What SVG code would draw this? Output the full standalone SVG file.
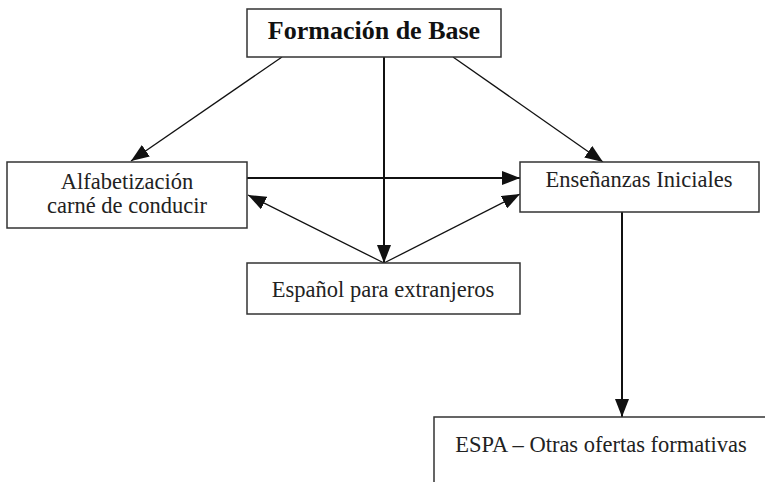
<svg xmlns="http://www.w3.org/2000/svg" width="765" height="482" viewBox="0 0 765 482">
<style>
.box{fill:#fff;stroke:#333;stroke-width:1.5}
.t{font-family:"Liberation Serif","Times New Roman",serif;font-size:22.5px;fill:#222;text-anchor:middle}
.tb{font-family:"Liberation Serif","Times New Roman",serif;font-size:26px;font-weight:bold;fill:#111;text-anchor:middle}
.thick{stroke:#111;stroke-width:2;fill:none}
.thin{stroke:#111;stroke-width:1.3;fill:none}
</style>
<defs>
<marker id="ah" markerUnits="userSpaceOnUse" markerWidth="18" markerHeight="14" refX="18" refY="7" orient="auto">
<path d="M0,0 L18,7 L0,14 z" fill="#111"/>
</marker>
</defs>
<rect width="765" height="482" fill="#fff"/>
<g id="connectors">
<line class="thin" x1="282" y1="57" x2="131" y2="161" marker-end="url(#ah)"/>
<line class="thick" x1="384" y1="57" x2="384" y2="263" marker-end="url(#ah)"/>
<line class="thin" x1="453" y1="57" x2="603" y2="162" marker-end="url(#ah)"/>
<line class="thick" x1="247" y1="178" x2="520" y2="178" marker-end="url(#ah)"/>
<line class="thin" x1="384" y1="263" x2="248" y2="195" marker-end="url(#ah)"/>
<line class="thin" x1="384" y1="263" x2="520" y2="194" marker-end="url(#ah)"/>
<line class="thick" x1="622" y1="212" x2="622" y2="417" marker-end="url(#ah)"/>
</g>
<g id="formacion">
<rect class="box" x="247" y="9" width="254" height="48"/>
<text class="tb" x="374" y="39">Formación de Base</text>
</g>
<g id="alfabetizacion">
<rect class="box" x="7" y="162" width="240" height="66"/>
<text class="t" x="127" y="189">Alfabetización</text>
<text class="t" x="127" y="213">carné de conducir</text>
</g>
<g id="ensenanzas">
<rect class="box" x="520" y="162" width="239" height="50"/>
<text class="t" x="639" y="187">Enseñanzas Iniciales</text>
</g>
<g id="espanol">
<rect class="box" x="247" y="263" width="273" height="51"/>
<text class="t" x="383" y="297">Español para extranjeros</text>
</g>
<g id="espa">
<path class="box" d="M434,483 V417 H766" fill="none"/>
<text class="t" x="601" y="452">ESPA – Otras ofertas formativas</text>
</g>
</svg>
